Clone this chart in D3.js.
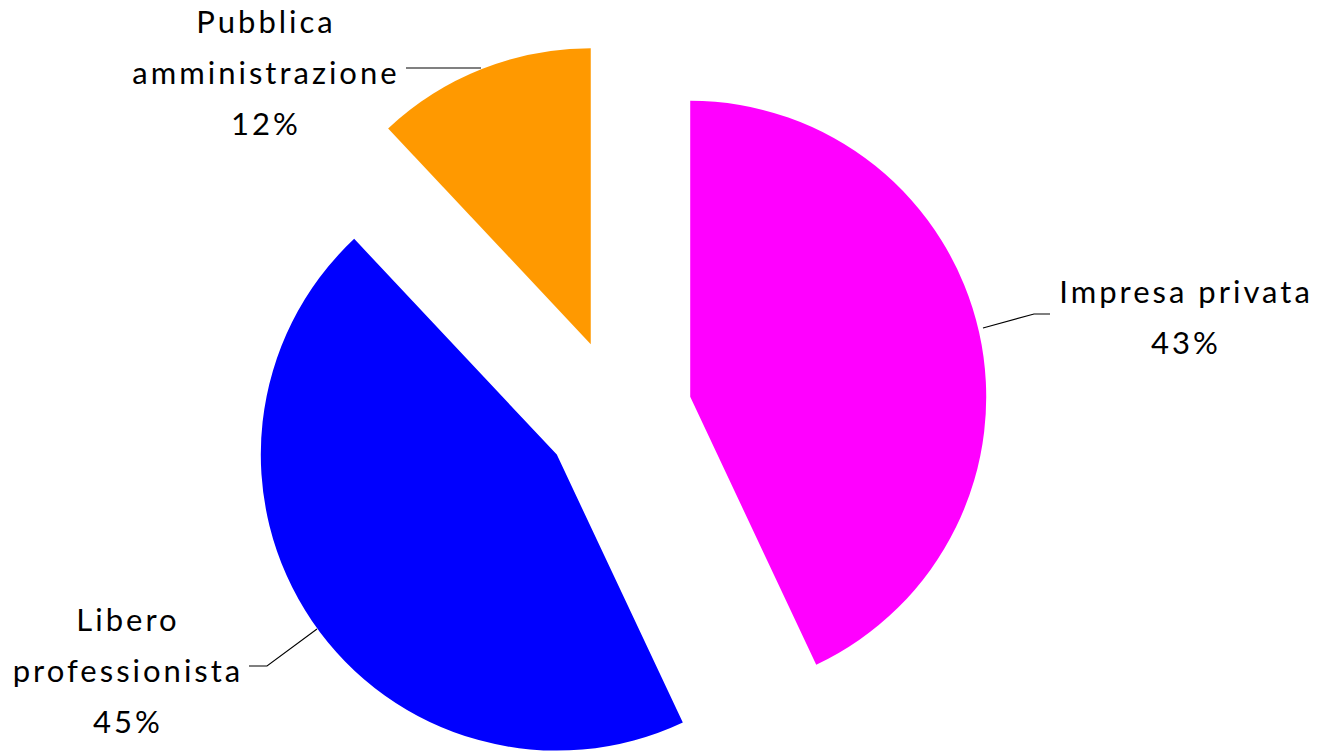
<!DOCTYPE html>
<html>
<head lang="it">
    <meta charset="UTF-8">
    <title>d3 pie</title>
    <style>
        body { margin: 0; background: #fff; }
        .label { font-family: Lato, "Open Sans", sans-serif; font-size: 31px; fill: #000; letter-spacing: 3px; }
    </style>
</head>
<body>
<svg width="1318" height="751"></svg>

<script src="https://cdn.jsdelivr.net/npm/d3@7"></script>
<script>
    var categories = ["Impresa privata", "Libero professionista", "Pubblica amministrazione"];
    var values = [43, 45, 12];
    var colors = ["#FF00FF", "#0000FF", "#FF9900"];

    // label text lines and where they sit (layout only)
    var labelLines = [["Impresa privata", "43%"], ["Libero", "professionista", "45%"], ["Pubblica", "amministrazione", "12%"]];
    var labelPos = [[1186, 303], [128, 631], [266, 33]];
    var leaders = [
        [[983, 328], [1034, 314], [1050, 314]],
        [[317, 629], [267, 666], [249, 666]],
        [[481, 68], [406, 68]]
    ];
    var leaderColor = ["#000", "#000", "#808080"];

    var svg = d3.select("svg"),
        cx = 618, cy = 413, radius = 296, explode = 74;

    var pie = d3.pie().sort(null).value(function (d) { return d; });
    var arc = d3.arc().innerRadius(0).outerRadius(radius);
    var arcs = pie(values);

    var g = svg.append("g").attr("transform", "translate(" + cx + "," + cy + ")");

    g.selectAll("path")
        .data(arcs)
        .enter()
        .append("path")
        .attr("d", arc)
        .attr("fill", function (d, i) { return colors[i]; })
        .attr("transform", function (d) {
            var mid = (d.startAngle + d.endAngle) / 2;
            return "translate(" + (explode * Math.sin(mid)) + "," + (-explode * Math.cos(mid)) + ")";
        });

    svg.selectAll("polyline")
        .data(leaders)
        .enter()
        .append("polyline")
        .attr("points", function (d) { return d.join(" "); })
        .attr("fill", "none")
        .attr("stroke", function (d, i) { return leaderColor[i]; })
        .attr("stroke-width", function (d, i) { return i == 2 ? 1.8 : 1.1; });

    var labels = svg.selectAll("text.label")
        .data(categories)
        .enter()
        .append("text")
        .attr("class", "label")
        .attr("text-anchor", "middle");

    labels.each(function (d, i) {
        var t = d3.select(this);
        labelLines[i].forEach(function (line, k) {
            t.append("tspan")
                .attr("x", labelPos[i][0])
                .attr("y", labelPos[i][1] + k * 51)
                .text(line);
        });
    });
</script>
</body>
</html>
